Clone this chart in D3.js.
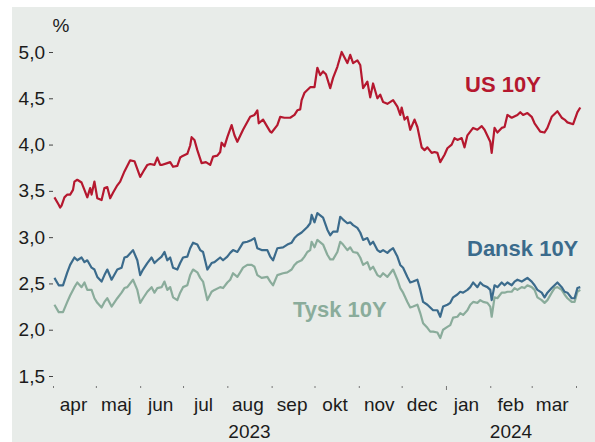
<!DOCTYPE html>
<html>
<head>
<meta charset="utf-8">
<script src="https://cdn.jsdelivr.net/npm/d3@7"></script>
<style>
	body { margin: 0; background: #fff; }
	svg { display: block; font-family: "Liberation Sans", Arial, sans-serif; }
	.axis .domain { display: none; }
	.axis text { font-size: 19px; fill: #1b1b1b; }
	.yaxis line { stroke: #444; }
	.xaxis line { stroke: #777; }
	.series { fill: none; stroke-width: 2.2; stroke-linejoin: round; }
	.label { font-size: 22px; font-weight: bold; }
</style>
</head>
<body>
<script>
// tick labels
const Y_TICKS = [1.5, 2.0, 2.5, 3.0, 3.5, 4.0, 4.5, 5.0];
const MONTH_LABELS = ["apr", "maj", "jun", "jul", "aug", "sep", "okt", "nov", "dec", "jan", "feb", "mar"];
const YEAR_LABELS = ["2023", "2024"];

// US 10Y
const usDates = [
	"2023-04-02","2023-04-05","2023-04-06","2023-04-07","2023-04-09","2023-04-11","2023-04-13","2023-04-15","2023-04-16","2023-04-18","2023-04-21","2023-04-23","2023-04-25","2023-04-27","2023-04-28","2023-04-30",
	"2023-05-02","2023-05-05","2023-05-07","2023-05-09","2023-05-11","2023-05-13","2023-05-16","2023-05-18","2023-05-21","2023-05-25","2023-05-28",
	"2023-06-01","2023-06-04","2023-06-06","2023-06-08","2023-06-11","2023-06-13","2023-06-15","2023-06-16","2023-06-20","2023-06-22","2023-06-24","2023-06-27","2023-06-29","2023-06-30",
	"2023-07-04","2023-07-06","2023-07-07","2023-07-09","2023-07-11","2023-07-14","2023-07-17","2023-07-20","2023-07-22","2023-07-25","2023-07-27","2023-07-28","2023-07-30",
	"2023-08-01","2023-08-04","2023-08-06","2023-08-08","2023-08-12","2023-08-17","2023-08-20","2023-08-22","2023-08-23","2023-08-26","2023-08-31",
	"2023-09-01","2023-09-05","2023-09-07","2023-09-10","2023-09-14","2023-09-17","2023-09-19","2023-09-21","2023-09-22","2023-09-24","2023-09-28",
	"2023-10-01","2023-10-03","2023-10-05","2023-10-07","2023-10-09","2023-10-12","2023-10-14","2023-10-17","2023-10-20","2023-10-24","2023-10-26","2023-10-28","2023-10-31",
	"2023-11-02","2023-11-04","2023-11-07","2023-11-09","2023-11-11","2023-11-14","2023-11-16","2023-11-18","2023-11-21","2023-11-25","2023-11-28","2023-11-30",
	"2023-12-01","2023-12-03","2023-12-05","2023-12-07","2023-12-10","2023-12-12","2023-12-15","2023-12-17","2023-12-19","2023-12-22","2023-12-24","2023-12-26","2023-12-28","2023-12-31",
	"2024-01-02","2024-01-05","2024-01-07","2024-01-09","2024-01-12","2024-01-14","2024-01-16","2024-01-20","2024-01-23","2024-01-26","2024-01-28",
	"2024-02-01","2024-02-02","2024-02-04","2024-02-06","2024-02-09","2024-02-11","2024-02-13","2024-02-16","2024-02-20","2024-02-22","2024-02-24","2024-02-27",
	"2024-03-01","2024-03-03","2024-03-07","2024-03-10","2024-03-12","2024-03-15","2024-03-19","2024-03-22","2024-03-24","2024-03-26","2024-03-30",
	"2024-04-02","2024-04-04"
];
const usValues = [
	3.43,3.35,3.32,3.34,3.43,3.46,3.46,3.51,3.60,3.62,3.59,3.51,3.43,3.53,3.46,3.60,
	3.42,3.40,3.53,3.54,3.42,3.48,3.56,3.60,3.71,3.83,3.82,
	3.65,3.73,3.78,3.79,3.78,3.86,3.78,3.78,3.80,3.81,3.76,3.77,3.86,3.87,
	3.90,3.99,4.08,4.05,3.94,3.80,3.81,3.78,3.87,3.88,3.92,4.02,3.98,
	4.08,4.21,4.10,4.03,4.16,4.30,4.32,4.37,4.23,4.27,4.14,
	4.13,4.21,4.30,4.29,4.29,4.32,4.37,4.38,4.48,4.56,4.62,
	4.62,4.83,4.75,4.79,4.76,4.61,4.72,4.84,5.00,4.88,4.97,4.88,4.91,
	4.86,4.61,4.68,4.51,4.66,4.50,4.54,4.46,4.44,4.48,4.41,4.32,
	4.40,4.27,4.30,4.16,4.27,4.19,3.97,3.94,3.97,3.91,3.92,3.91,3.81,3.89,
	3.96,4.00,4.07,4.05,4.07,3.97,4.10,4.18,4.16,4.20,4.16,
	4.03,3.91,4.18,4.13,4.18,4.19,4.32,4.29,4.32,4.35,4.32,4.34,
	4.30,4.23,4.14,4.13,4.18,4.30,4.36,4.29,4.27,4.24,4.22,
	4.35,4.40
];

// Dansk and Tysk 10Y share the same dates
const euDates = [
	"2023-04-02","2023-04-05","2023-04-08","2023-04-11","2023-04-13","2023-04-16","2023-04-18","2023-04-21","2023-04-23","2023-04-25","2023-04-28","2023-04-30",
	"2023-05-02","2023-05-05","2023-05-07","2023-05-09","2023-05-12","2023-05-16","2023-05-19","2023-05-21","2023-05-23","2023-05-27","2023-05-30",
	"2023-06-01","2023-06-03","2023-06-06","2023-06-09","2023-06-11","2023-06-13","2023-06-16","2023-06-18","2023-06-20","2023-06-22","2023-06-24","2023-06-27","2023-06-29",
	"2023-07-01","2023-07-04","2023-07-06","2023-07-08","2023-07-11","2023-07-13","2023-07-15","2023-07-18","2023-07-21","2023-07-23","2023-07-27","2023-07-29",
	"2023-08-01","2023-08-03","2023-08-05","2023-08-08","2023-08-10","2023-08-12","2023-08-15","2023-08-18","2023-08-20","2023-08-22","2023-08-25","2023-08-29","2023-08-31",
	"2023-09-02","2023-09-05","2023-09-09","2023-09-12","2023-09-15","2023-09-17","2023-09-19","2023-09-22","2023-09-24","2023-09-26","2023-09-28","2023-09-29",
	"2023-10-01","2023-10-03","2023-10-07","2023-10-10","2023-10-12","2023-10-14","2023-10-17","2023-10-19","2023-10-21","2023-10-24","2023-10-26","2023-10-28","2023-10-31",
	"2023-11-02","2023-11-04","2023-11-07","2023-11-09","2023-11-11","2023-11-14","2023-11-16","2023-11-18","2023-11-21","2023-11-23","2023-11-25","2023-11-28","2023-11-30",
	"2023-12-02","2023-12-05","2023-12-07","2023-12-09","2023-12-12","2023-12-14","2023-12-16","2023-12-19","2023-12-21","2023-12-23","2023-12-26","2023-12-28","2023-12-30",
	"2024-01-02","2024-01-04","2024-01-06","2024-01-09","2024-01-11","2024-01-13","2024-01-16","2024-01-18","2024-01-20","2024-01-23","2024-01-25","2024-01-27","2024-01-30",
	"2024-02-01","2024-02-02","2024-02-04","2024-02-06","2024-02-09","2024-02-11","2024-02-13","2024-02-16","2024-02-18","2024-02-20","2024-02-23","2024-02-25","2024-02-27",
	"2024-03-01","2024-03-03","2024-03-05","2024-03-08","2024-03-10","2024-03-12","2024-03-15","2024-03-17","2024-03-19","2024-03-22","2024-03-24","2024-03-26","2024-03-29","2024-03-31",
	"2024-04-02","2024-04-04"
];
const danskValues = [
	2.56,2.48,2.48,2.62,2.70,2.78,2.75,2.78,2.73,2.75,2.67,2.65,
	2.57,2.52,2.59,2.65,2.54,2.65,2.67,2.78,2.79,2.86,2.75,
	2.59,2.65,2.72,2.78,2.72,2.75,2.79,2.84,2.75,2.78,2.67,2.65,2.72,
	2.78,2.79,2.88,2.94,2.92,2.86,2.84,2.65,2.72,2.73,2.78,2.75,
	2.79,2.83,2.86,2.84,2.89,2.94,2.95,2.97,2.99,2.88,2.86,2.86,2.79,
	2.75,2.88,2.89,2.92,2.94,2.99,3.02,3.05,3.08,3.11,3.15,3.24,
	3.16,3.26,3.21,3.08,3.02,3.06,3.06,3.22,3.19,3.15,3.16,3.13,3.10,
	3.05,2.97,2.99,2.92,2.95,2.86,2.84,2.86,2.83,2.86,2.88,2.79,2.70,
	2.67,2.57,2.51,2.52,2.54,2.43,2.30,2.27,2.24,2.21,2.21,2.14,2.25,
	2.27,2.29,2.35,2.38,2.41,2.40,2.43,2.46,2.51,2.46,2.51,2.48,2.46,
	2.43,2.32,2.48,2.46,2.51,2.48,2.51,2.48,2.52,2.54,2.52,2.54,2.56,
	2.52,2.48,2.43,2.40,2.35,2.40,2.45,2.48,2.51,2.46,2.41,2.40,2.34,2.34,
	2.45,2.46
];
const tyskValues = [
	2.27,2.19,2.19,2.30,2.37,2.46,2.51,2.46,2.51,2.43,2.43,2.34,
	2.29,2.24,2.30,2.34,2.25,2.34,2.40,2.45,2.46,2.54,2.43,
	2.29,2.34,2.41,2.46,2.40,2.45,2.46,2.52,2.43,2.46,2.35,2.32,2.40,
	2.46,2.48,2.59,2.65,2.62,2.56,2.52,2.32,2.41,2.43,2.46,2.45,
	2.51,2.54,2.61,2.57,2.62,2.67,2.70,2.70,2.68,2.59,2.56,2.57,2.52,
	2.48,2.59,2.61,2.62,2.65,2.70,2.73,2.75,2.79,2.84,2.86,2.95,
	2.89,2.97,2.92,2.81,2.76,2.76,2.84,2.95,2.92,2.86,2.89,2.84,2.83,
	2.78,2.70,2.73,2.65,2.68,2.59,2.57,2.61,2.57,2.61,2.65,2.54,2.45,
	2.40,2.30,2.24,2.25,2.27,2.18,2.07,2.02,1.98,1.98,1.97,1.91,2.00,
	2.03,2.05,2.13,2.14,2.18,2.16,2.21,2.27,2.30,2.29,2.32,2.30,2.29,
	2.25,2.14,2.35,2.34,2.40,2.40,2.41,2.41,2.45,2.43,2.46,2.45,2.48,
	2.46,2.43,2.35,2.32,2.29,2.32,2.40,2.45,2.46,2.43,2.38,2.34,2.30,2.30,
	2.41,2.43
];

let width = 595, height = 442;
let plot = {left: 53, right: 576, top: 52, bottom: 376, axisY: 386};

let parseDate = d3.timeParse("%Y-%m-%d");
let startDate = parseDate("2023-04-01");
let endDate = parseDate("2024-04-01");

let xScale = d3.scaleTime().domain([startDate, endDate]).range([plot.left, plot.right]);
let yScale = d3.scaleLinear().domain([1.5, 5.0]).range([plot.bottom, plot.top]);

let svg = d3.select("body").append("svg")
	.attr("width", width)
	.attr("height", height);

// grey panel
svg.append("rect")
	.attr("x", 12).attr("y", 7)
	.attr("width", width - 12).attr("height", height - 7)
	.attr("fill", "#e8ece9");

// y axis
svg.append("g")
	.attr("class", "axis yaxis")
	.attr("transform", "translate(" + plot.left + ",0)")
	.call(d3.axisLeft(yScale)
		.tickValues(Y_TICKS)
		.tickSize(4)
		.tickPadding(4)
		.tickFormat(function(d) { return d3.format(".1f")(d).replace(".", ","); }));

svg.append("text")
	.attr("x", 61).attr("y", 32)
	.attr("text-anchor", "middle")
	.style("font-size", "19px")
	.attr("fill", "#1b1b1b")
	.text("%");

// x axis: month ticks
let monthStarts = d3.timeMonth.range(startDate, d3.timeDay.offset(endDate, 1));
let xTicks = svg.append("g")
	.attr("class", "axis xaxis")
	.attr("transform", "translate(0," + plot.axisY + ")")
	.call(d3.axisBottom(xScale).tickValues(monthStarts).tickSize(2).tickFormat(""));
xTicks.selectAll(".tick line")
	.filter(function(d) { return d.getMonth() === 0; })
	.attr("y2", 4);

// month labels on the 15th of each month
let monthMids = monthStarts.slice(0, -1).map(function(d) { return d3.timeDay.offset(d, 14); });
svg.append("g")
	.attr("class", "axis")
	.attr("transform", "translate(0," + plot.axisY + ")")
	.call(d3.axisBottom(xScale)
		.tickValues(monthMids)
		.tickSize(0)
		.tickPadding(12)
		.tickFormat(function(d, i) { return MONTH_LABELS[i]; }));

// year labels centred on their part of the axis
let yearBreak = parseDate("2024-01-01");
let yearSpans = [[startDate, yearBreak], [yearBreak, endDate]];
svg.selectAll(".year")
	.data(YEAR_LABELS)
	.enter().append("text")
		.attr("class", "year")
		.attr("x", function(d, i) { return (xScale(yearSpans[i][0]) + xScale(yearSpans[i][1])) / 2; })
		.attr("y", 438)
		.attr("text-anchor", "middle")
		.style("font-size", "19px")
		.attr("fill", "#1b1b1b")
		.text(function(d) { return d; });

// lines
let series = [
	{name: "Tysk 10Y", dates: euDates, values: tyskValues, color: "#8aac9b", lx: 293, ly: 317},
	{name: "Dansk 10Y", dates: euDates, values: danskValues, color: "#3b6b8c", lx: 467, ly: 256},
	{name: "US 10Y", dates: usDates, values: usValues, color: "#b5182f", lx: 465, ly: 92}
];

let line = d3.line()
	.x(function(d) { return xScale(d.date); })
	.y(function(d) { return yScale(d.value); });

series.forEach(function(s) {
	let pts = s.dates.map(function(d, i) { return {date: parseDate(d), value: s.values[i]}; })
		.filter(function(p) { return p.value != null; });

	svg.append("path")
		.datum(pts)
		.attr("class", "series")
		.attr("stroke", s.color)
		.attr("d", line);

	svg.append("text")
		.attr("class", "label")
		.attr("x", s.lx).attr("y", s.ly)
		.attr("fill", s.color)
		.text(s.name);
});
</script>
</body>
</html>
